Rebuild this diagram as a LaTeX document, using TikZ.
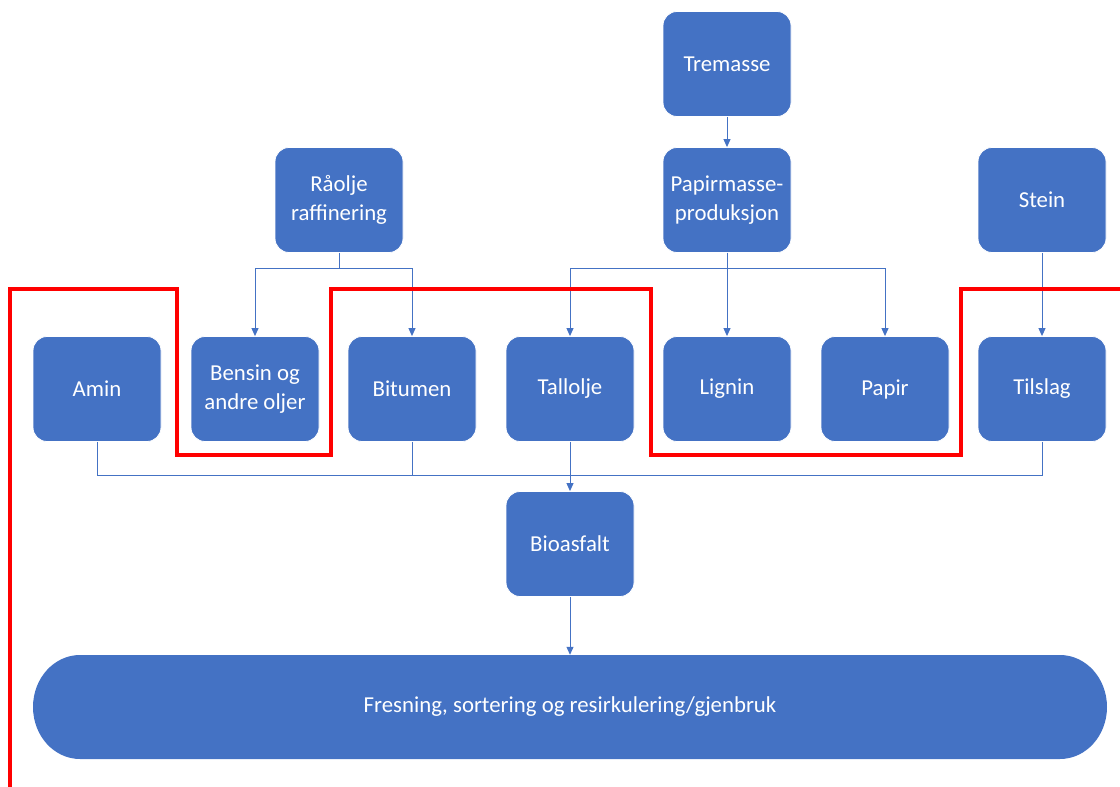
\documentclass[tikz,border=0pt]{standalone}
\usepackage{fontspec}
\setmainfont{Carlito}
\usetikzlibrary{arrows.meta}
\definecolor{boxblue}{HTML}{4472C4}
\definecolor{linkblue}{HTML}{4472C4}
\definecolor{bordred}{HTML}{FF0000}
\tikzset{
  stepbox/.style={rectangle, rounded corners=14pt, fill=boxblue, draw=white,
    line width=0.8pt, minimum width=128pt, minimum height=105pt, inner sep=2pt,
    text=white, align=center, font=\fontsize{22.8}{29.5}\selectfont},
  link/.style={draw=linkblue, line width=1pt},
  linkarrow/.style={link, -{Triangle[width=7pt,length=8pt]}},
  boundary/.style={draw=bordred, line width=3.2pt, line join=miter},
}
\begin{document}
\begin{tikzpicture}[x=1pt, y=-1pt]
\useasboundingbox (0,0) rectangle (1120,787);

% top row
\node[stepbox] (tremasse) at (727,64) {Tremasse};
\node[stepbox] (raolje) at (339,200) {Råolje\\raffinering};
\node[stepbox] (papirmasse) at (727,200) {Papirmasse-\\produksjon};
\node[stepbox] (stein) at (1042,200) {Stein};

% middle row
\node[stepbox] (amin) at (97,389) {Amin};
\node[stepbox] (bensin) at (255,389) {Bensin og\\andre oljer};
\node[stepbox] (bitumen) at (412,389) {Bitumen};
\node[stepbox] (tallolje) at (570,389) {Tallolje};
\node[stepbox] (lignin) at (727,389) {Lignin};
\node[stepbox] (papir) at (885,389) {Papir};
\node[stepbox] (tilslag) at (1042,389) {Tilslag};

% product
\node[stepbox] (bioasfalt) at (570,544) {Bioasfalt};

% end stage: rectangle with elliptical ends
\fill[boxblue] (80,655) -- (1060,655)
  arc[start angle=-90, end angle=90, x radius=47, y radius=52]
  -- (80,759)
  arc[start angle=90, end angle=270, x radius=47, y radius=52] -- cycle;
\node[minimum width=1074pt, minimum height=104pt, inner sep=0pt, text=white,
  font=\fontsize{22.8}{29.5}\selectfont] (fresning) at (570,707)
  {Fresning, sortering og resirkulering/gjenbruk};

% connectors from the sources
\draw[linkarrow] (tremasse) -- (papirmasse);
\draw[linkarrow] (raolje.south) -- ++(0,16) -| (bensin.north);
\draw[linkarrow] (raolje.south) -- ++(0,16) -| (bitumen.north);
\draw[linkarrow] (papirmasse.south) -- ++(0,16) -| (tallolje.north);
\draw[linkarrow] (papirmasse.south) -- (lignin.north);
\draw[linkarrow] (papirmasse.south) -- ++(0,16) -| (papir.north);
\draw[linkarrow] (stein) -- (tilslag);

% ingredients joining into the asphalt
\coordinate (mix) at (570,475);
\draw[link] (amin.south) |- (mix);
\draw[link] (bitumen.south) |- (mix);
\draw[link] (tilslag.south) |- (mix);
\draw[linkarrow] (tallolje) -- (bioasfalt);
\draw[linkarrow] (bioasfalt) -- (fresning.north);

% system boundary
\draw[boundary] (10,787) -- (10,289) -- (177,289) -- (177,455) -- (331,455)
  -- (331,289) -- (651,289) -- (651,455) -- (961,455) -- (961,289) -- (1120,289);
\end{tikzpicture}
\end{document}
